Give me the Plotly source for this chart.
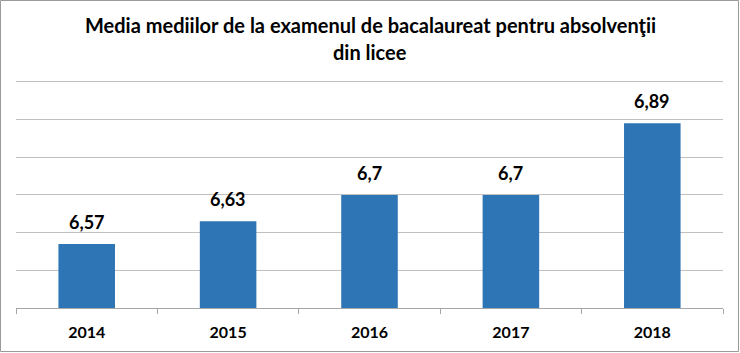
import plotly.graph_objects as go

years = ["2014", "2015", "2016", "2017", "2018"]
values = [6.57, 6.63, 6.7, 6.7, 6.89]
labels = [f"{v:g}".replace(".", ",") for v in values]
title_line1 = "Media mediilor de la examenul de bacalaureat pentru absolvenţii"
title_line2 = "din licee"

W, H = 740, 353
ML, MR, MT, MB = 16, 17, 80, 45
PW, PH = W - ML - MR, H - MT - MB
Y_MIN, Y_MAX = 6.4, 7.005


def px_x(x):
    return (x - ML) / PW


def px_y(y):
    return (H - MB - y) / PH


BAR = "#2E75B6"
FONT = "Lato"

fig = go.Figure(
    go.Bar(
        x=years,
        y=values,
        width=0.4,
        marker=dict(color=BAR, line=dict(width=0)),
        hoverinfo="x+y",
    )
)

for i, (v, lab) in enumerate(zip(values, labels)):
    fig.add_annotation(
        x=i, y=v, xref="x", yref="y", text=f"<b>{lab}</b>",
        showarrow=False, yanchor="bottom", yshift=9,
        font=dict(family=FONT, size=18, color="#000000"),
    )

fig.add_annotation(
    x=px_x(370), y=px_y(25), xref="paper", yref="paper",
    text=f"<b>{title_line1}</b>", showarrow=False,
    xanchor="center", yanchor="middle",
    font=dict(family=FONT, size=20, color="#000000"),
)
fig.add_annotation(
    x=px_x(370), y=px_y(52), xref="paper", yref="paper",
    text=f"<b>{title_line2}</b>", showarrow=False,
    xanchor="center", yanchor="middle",
    font=dict(family=FONT, size=20, color="#000000"),
)

fig.add_shape(
    type="rect", xref="paper", yref="paper",
    x0=px_x(0.5), x1=px_x(738.5), y0=px_y(351.5), y1=px_y(0.5),
    line=dict(color="#9A9A9A", width=1), fillcolor="rgba(0,0,0,0)",
    layer="below",
)

fig.update_layout(
    width=W, height=H,
    margin=dict(l=ML, r=MR, t=MT, b=MB, autoexpand=False),
    paper_bgcolor="white", plot_bgcolor="white",
    showlegend=False,
    font=dict(family=FONT, color="#000000"),
    xaxis=dict(
        type="category",
        range=[-0.5, 4.5],
        showgrid=False,
        showline=True, linecolor="#A6A6A6", linewidth=1,
        ticks="outside", tickson="boundaries", ticklen=5, tickcolor="#A6A6A6",
        tickfont=dict(family=FONT, size=16, color="#000000", weight="bold"),
        ticklabelstandoff=10,
        tickangle=0, automargin=False,
        fixedrange=True,
    ),
    yaxis=dict(
        range=[Y_MIN, Y_MAX],
        dtick=0.1, tick0=6.4,
        showgrid=True, gridcolor="#C0C0C0", gridwidth=1,
        showticklabels=False, zeroline=False, showline=False,
        automargin=False,
        fixedrange=True,
    ),
)

fig.write_html("out.html")
